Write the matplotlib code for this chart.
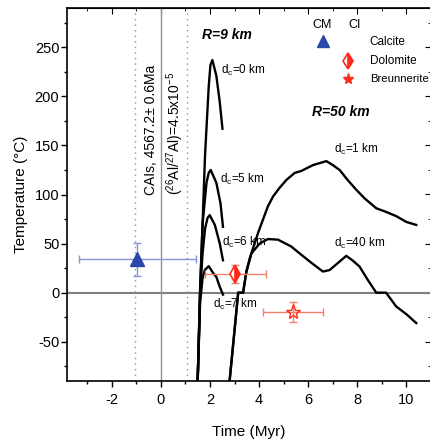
import numpy as np
import matplotlib
matplotlib.use('Agg')
from matplotlib import pyplot as plt
from matplotlib.ticker import MultipleLocator

plt.rcParams['font.family'] = ['Liberation Sans', 'DejaVu Sans']
plt.rcParams['mathtext.fontset'] = 'custom'
plt.rcParams['mathtext.rm'] = 'Liberation Sans'
plt.rcParams['mathtext.it'] = 'Liberation Sans:italic'
plt.rcParams['mathtext.bf'] = 'Liberation Sans:bold'
plt.rcParams['axes.unicode_minus'] = False

# R = 9 km curves (time in Myr, temperature in C)
t_dc0 = [1.50, 1.60, 1.80, 1.95, 2.02, 2.10, 2.26, 2.40, 2.51]
T_dc0 = [-90, 0, 140, 210, 232, 237, 221, 194, 167]
t_dc5 = [1.50, 1.60, 1.70, 1.86, 1.95, 2.03, 2.26, 2.43, 2.53]
T_dc5 = [-90, 5, 70, 112, 122, 125, 112, 91, 67]
t_dc6 = [1.50, 1.60, 1.70, 1.80, 1.90, 1.99, 2.20, 2.40, 2.53]
T_dc6 = [-90, 0, 40, 65, 76, 79, 69, 50, 33]
t_dc7 = [1.50, 1.60, 1.70, 1.79, 1.95, 2.13, 2.26, 2.40, 2.53]
T_dc7 = [-90, -10, 15, 23, 27, 20, 16, 6, -2]

# R = 50 km curves
t_dc1 = [2.80, 3.15, 3.35, 3.48, 3.62, 3.96, 4.36, 4.57, 4.84, 5.12, 5.45,
         5.72, 6.20, 6.74, 7.00, 7.28, 7.60, 7.95, 8.30, 8.77, 9.20, 9.58,
         10.0, 10.4]
T_dc1 = [-90, 0, 0, 21, 35, 61, 88, 98, 107, 115, 122,
         124, 130, 134, 130, 125, 115, 105, 96, 86, 82, 78,
         72, 69]
t_dc40 = [2.80, 3.15, 3.35, 3.48, 3.69, 4.02, 4.36, 4.77, 5.31, 5.65, 6.10,
          6.60, 6.87, 7.20, 7.55, 7.80, 8.09, 8.40, 8.77, 9.17, 9.58, 10.0,
          10.4]
T_dc40 = [-90, 0, 0, 21, 40, 50, 54.6, 54, 47, 40, 31,
          21.5, 23, 30, 37.5, 33, 26.6, 14, 0, 0, -14, -22,
          -31]

# carbonate data: x, y, xerr, yerr
calcite = (-0.95, 34, 2.38, 17)
dolomite = (3.04, 19, 1.25, 9)
breunnerite = (5.38, -20, 1.24, 10)

cai_lines = [-1.05, 1.08]

fig = plt.figure(figsize=(4.31, 4.45), dpi=100)
ax = fig.add_axes([67 / 431, 1 - 381 / 445, 1 - 67 / 431, (381 - 8) / 445])
ax.set_xlim(-3.82, 11)
ax.set_ylim(-90, 290)

ax.axhline(0, color='#808080', lw=1.5, zorder=1)
ax.axvline(0, color='#909090', lw=1.0, zorder=1)
for xv in cai_lines:
    ax.axvline(xv, color='#909090', lw=1.0, ls=(0, (1, 3)), zorder=1)

for t, T in [(t_dc0, T_dc0), (t_dc5, T_dc5), (t_dc6, T_dc6), (t_dc7, T_dc7),
             (t_dc1, T_dc1), (t_dc40, T_dc40)]:
    ax.plot(t, T, color='black', lw=1.7, zorder=3)

blue = '#2a48a8'
blue_err = '#8494d4'
red = '#ff2a1a'
red_err = '#f2806e'

x, y, xe, ye = calcite
ax.errorbar(x, y, xerr=xe, yerr=ye, fmt='none', ecolor=blue_err, elinewidth=1,
            capsize=3, zorder=4)
ax.plot(x, y, marker='^', ms=10, color=blue, mec=blue, zorder=5)

x, y, xe, ye = dolomite
ax.errorbar(x, y, xerr=xe, yerr=ye, fmt='none', ecolor=red_err, elinewidth=1,
            capsize=3, zorder=4)
ax.plot(x, y, marker='d', ms=9, fillstyle='right', color=red, mec=red,
        mfc=red, markerfacecoloralt='white', mew=1.2, zorder=5)

x, y, xe, ye = breunnerite
ax.errorbar(x, y, xerr=xe, yerr=ye, fmt='none', ecolor=red_err, elinewidth=1,
            capsize=3, zorder=4)
ax.plot(x, y, marker='*', ms=11, color=red, mfc='none', mec=red, mew=1.0,
        zorder=5)

# curve labels
lab = dict(fontsize=8.5, zorder=6)
ax.text(2.45, 226, r'd$_\mathregular{c}$=0 km', va='center', **lab)
ax.text(2.42, 115, r'd$_\mathregular{c}$=5 km', va='center', **lab)
ax.text(2.50, 51, r'd$_\mathregular{c}$=6 km', va='center', **lab)
ax.text(2.13, -12, r'd$_\mathregular{c}$=7 km', va='center', **lab)
ax.text(7.05, 146, r'd$_\mathregular{c}$=1 km', va='center', **lab)
ax.text(7.05, 50, r'd$_\mathregular{c}$=40 km', va='center', **lab)

ax.text(1.68, 262, 'R=9 km', fontsize=10, fontweight='bold', style='italic',
        va='center')
ax.text(6.15, 184, 'R=50 km', fontsize=10, fontweight='bold', style='italic',
        va='center')

ax.text(-0.38, 99, 'CAIs, 4567.2\u00b1 0.6Ma', rotation=90, ha='center',
        va='bottom', fontsize=10)
ax.text(0.60, 99, r'($\mathregular{^{26}Al/^{27}Al}$)=4.5x10$\mathregular{^{-5}}$',
        rotation=90, ha='center', va='bottom', fontsize=10)

# legend
tr = ax.transAxes
ax.text(0.702, 0.954, 'CM', transform=tr, ha='center', va='center', fontsize=9)
ax.text(0.791, 0.954, 'CI', transform=tr, ha='center', va='center', fontsize=9)
ax.plot([0.702], [0.912], transform=tr, marker='^', ms=8, color=blue,
        clip_on=False)
ax.plot([0.772], [0.858], transform=tr, marker='d', ms=8, fillstyle='right',
        color=red, mec=red, mfc=red, markerfacecoloralt='white', mew=1.2,
        clip_on=False)
ax.plot([0.772], [0.810], transform=tr, marker='*', ms=8, color=red,
        clip_on=False)
ax.text(0.832, 0.909, 'Calcite', transform=tr, va='center', fontsize=8.5)
ax.text(0.832, 0.858, 'Dolomite', transform=tr, va='center', fontsize=8.5)
ax.text(0.832, 0.810, 'Breunnerite', transform=tr, va='center', fontsize=8.2)

# axes and ticks
ax.xaxis.set_major_locator(MultipleLocator(2))
ax.xaxis.set_minor_locator(MultipleLocator(1))
ax.yaxis.set_major_locator(MultipleLocator(50))
ax.yaxis.set_minor_locator(MultipleLocator(25))
ax.tick_params(which='major', direction='out', length=4.5, width=1,
               labelsize=10.5)
ax.tick_params(which='minor', direction='out', length=2.2, width=1)
ax.tick_params(axis='x', pad=4)
ax.tick_params(axis='y', pad=1)

top = ax.secondary_xaxis('top')
top.xaxis.set_major_locator(MultipleLocator(2))
top.xaxis.set_minor_locator(MultipleLocator(1))
top.tick_params(which='major', direction='in', length=4.5, labeltop=False)
top.tick_params(which='minor', direction='in', length=2.2)
right = ax.secondary_yaxis('right')
right.yaxis.set_major_locator(MultipleLocator(50))
right.yaxis.set_minor_locator(MultipleLocator(25))
right.tick_params(which='major', direction='in', length=4.5, labelright=False)
right.tick_params(which='minor', direction='in', length=2.2)

for sp in ax.spines.values():
    sp.set_linewidth(1.2)

ax.set_xlabel('Time (Myr)', fontsize=11, labelpad=13)
ax.set_ylabel('Temperature (\u00b0C)', fontsize=11, labelpad=5)

fig.savefig('out.png', dpi=100)
